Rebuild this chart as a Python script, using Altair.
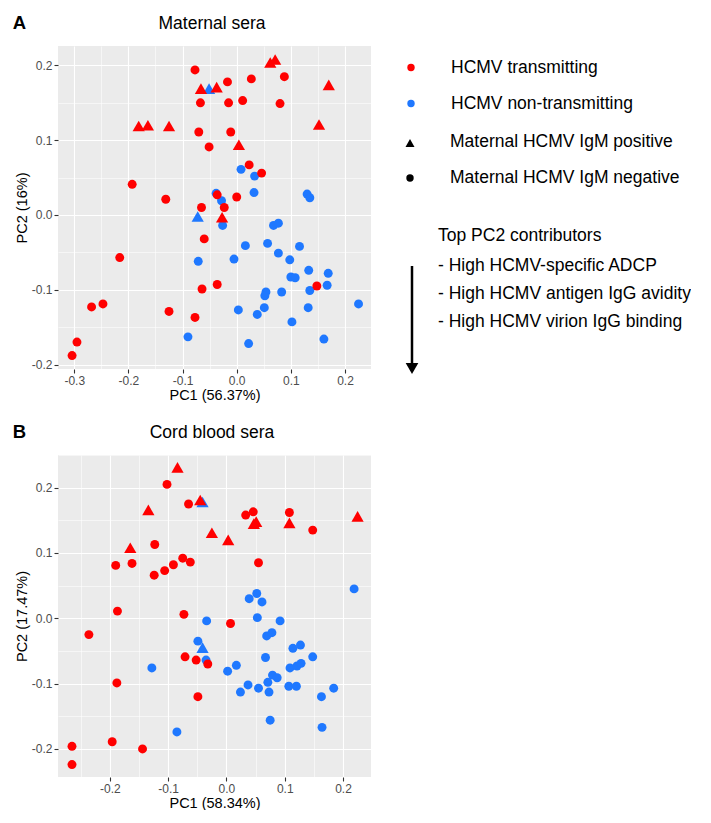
import altair as alt
import pandas as pd

FONT = "Liberation Sans"
RED = "#FF0000"
BLUE = "#1F78FF"
GRAY_BG = "#EBEBEB"

# ---------------- Panel A: maternal sera ----------------
a_nontx_circle_pc1 = [0.008, 0.033, 0.032, 0.130, 0.135, -0.038, -0.028, -0.026, 0.068, 0.077,
                      0.016, 0.057, 0.116, 0.077, -0.005, 0.098, 0.133, 0.169, 0.100, 0.108,
                      0.167, 0.135, 0.054, 0.052, 0.083, 0.003, 0.051, 0.132, 0.038, 0.225,
                      0.102, 0.022, 0.161, -0.071, -0.090]
a_nontx_circle_pc2 = [0.061, 0.052, 0.030, 0.028, 0.023, 0.029, 0.019, -0.014, -0.014, -0.011,
                      -0.041, -0.038, -0.042, -0.051, -0.059, -0.060, -0.074, -0.078, -0.083, -0.084,
                      -0.094, -0.101, -0.103, -0.108, -0.103, -0.127, -0.124, -0.124, -0.133, -0.119,
                      -0.143, -0.172, -0.166, -0.062, -0.163]
a_nontx_tri_pc1 = [-0.051, -0.072]
a_nontx_tri_pc2 = [0.169, -0.002]
a_tx_circle_pc1 = [-0.077, -0.067, -0.070, -0.051, -0.193, -0.131, -0.065, 0.088, 0.027, -0.017,
                   -0.015, 0.011, 0.080, -0.011, 0.023, 0.046, -0.036, 0.000, -0.023, -0.060,
                   -0.216, -0.036, -0.064, -0.268, -0.247, -0.125, -0.077, -0.295, -0.304, 0.148]
a_tx_circle_pc2 = [0.194, 0.150, 0.111, 0.091, 0.041, 0.021, 0.010, 0.185, 0.182, 0.178,
                   0.150, 0.153, 0.149, 0.111, 0.067, 0.056, 0.027, 0.024, 0.010, -0.032,
                   -0.057, -0.093, -0.099, -0.123, -0.119, -0.129, -0.137, -0.170, -0.188, -0.095]
a_tx_tri_pc1 = [-0.066, -0.037, -0.181, -0.164, -0.125, 0.062, 0.071, 0.170, 0.152, 0.004, -0.027]
a_tx_tri_pc2 = [0.169, 0.171, 0.119, 0.120, 0.119, 0.204, 0.208, 0.174, 0.121, 0.094, -0.003]

# ---------------- Panel B: cord blood sera ----------------
b_nontx_circle_pc1 = [-0.034, 0.219, 0.039, 0.052, 0.061, 0.053, 0.092, -0.049, -0.035, -0.128,
                      -0.085, 0.069, 0.078, 0.114, 0.127, 0.148, 0.067, 0.017, 0.002, 0.109,
                      0.121, 0.128, 0.079, 0.087, 0.071, 0.037, 0.055, 0.024, 0.073, 0.107,
                      0.120, 0.184, 0.163, 0.075, 0.164]
b_nontx_circle_pc2 = [-0.004, 0.045, 0.030, 0.038, 0.025, 0.001, -0.004, -0.035, -0.064, -0.076,
                      -0.174, -0.027, -0.022, -0.046, -0.041, -0.059, -0.060, -0.072, -0.081, -0.076,
                      -0.073, -0.069, -0.087, -0.091, -0.098, -0.102, -0.107, -0.113, -0.113, -0.104,
                      -0.104, -0.107, -0.120, -0.156, -0.167]
b_nontx_tri_pc1 = [-0.041, -0.041]
b_nontx_tri_pc2 = [0.178, -0.045]
b_tx_circle_pc1 = [-0.102, -0.065, -0.123, -0.190, -0.162, -0.075, -0.062, -0.091, -0.106, -0.124,
                   -0.187, -0.073, 0.033, 0.046, 0.108, 0.148, 0.055, 0.007, -0.236, -0.071,
                   -0.052, -0.032, -0.188, -0.049, -0.196, -0.265, -0.144, -0.265]
b_tx_circle_pc2 = [0.205, 0.175, 0.113, 0.081, 0.084, 0.092, 0.086, 0.082, 0.073, 0.066,
                   0.011, 0.006, 0.158, 0.163, 0.162, 0.135, 0.085, -0.008, -0.025, -0.059,
                   -0.064, -0.070, -0.099, -0.120, -0.189, -0.196, -0.200, -0.224]
b_tx_tri_pc1 = [-0.084, -0.045, -0.134, -0.025, -0.165, 0.047, 0.051, 0.108, 0.225, 0.003]
b_tx_tri_pc2 = [0.231, 0.181, 0.166, 0.131, 0.108, 0.145, 0.148, 0.146, 0.156, 0.120]

# axis tick positions (major + minor grid)
a_x_ticks = [-0.3, -0.25, -0.2, -0.15, -0.1, -0.05, 0.0, 0.05, 0.1, 0.15, 0.2]
a_y_ticks = [-0.2, -0.15, -0.1, -0.05, 0.0, 0.05, 0.1, 0.15, 0.2]
b_x_ticks = [-0.25, -0.2, -0.15, -0.1, -0.05, 0.0, 0.05, 0.1, 0.15, 0.2]
b_y_ticks = [-0.2, -0.15, -0.1, -0.05, 0.0, 0.05, 0.1, 0.15, 0.2, 0.25]

status_labels = ["HCMV transmitting", "HCMV non-transmitting"]
igm_labels = ["Maternal HCMV IgM positive", "Maternal HCMV IgM negative"]
notes = ["Top PC2 contributors", "- High HCMV-specific ADCP",
         "- High HCMV antigen IgG avidity", "- High HCMV virion IgG binding"]


def frame(groups):
    rows = []
    for status, igm, xs, ys in groups:
        for x, y in zip(xs, ys):
            rows.append({"pc1": x, "pc2": y, "status": status, "igm": igm})
    return pd.DataFrame(rows)


df_a = frame([
    ("non", "neg", a_nontx_circle_pc1, a_nontx_circle_pc2),
    ("non", "pos", a_nontx_tri_pc1, a_nontx_tri_pc2),
    ("tx", "neg", a_tx_circle_pc1, a_tx_circle_pc2),
    ("tx", "pos", a_tx_tri_pc1, a_tx_tri_pc2),
])
df_b = frame([
    ("non", "neg", b_nontx_circle_pc1, b_nontx_circle_pc2),
    ("non", "pos", b_nontx_tri_pc1, b_nontx_tri_pc2),
    ("tx", "neg", b_tx_circle_pc1, b_tx_circle_pc2),
    ("tx", "pos", b_tx_tri_pc1, b_tx_tri_pc2),
])

MAJOR = "abs(datum.value * 10 - round(datum.value * 10)) < 0.001"
LABEL = (MAJOR + " ? ((datum.value < -0.001 ? '-' : '') + format(abs(datum.value), '.1f')) : ''")


def make_axis(title, values):
    return alt.Axis(
        title=title, values=values, labelExpr=LABEL,
        grid=True, gridColor="white",
        gridWidth={"condition": {"test": MAJOR, "value": 1.1}, "value": 0.55},
        tickOpacity={"condition": {"test": MAJOR, "value": 1}, "value": 0},
        tickColor="#333333", tickSize=4, tickWidth=1.1, domain=False,
        labelColor="#4D4D4D", labelFont=FONT, labelFontSize=12, labelPadding=2,
        labelFlush=False, labelOverlap=False,
        titleFont=FONT, titleFontSize=14.5, titleFontWeight="normal", titleColor="black",
        titlePadding=2,
    )


one = pd.DataFrame({"k": [0]})


def txt(s, x, y, size=17.5, weight="normal", align="left", baseline="middle"):
    return alt.Chart(one).mark_text(
        text=s, align=align, baseline=baseline, font=FONT, fontSize=size,
        fontWeight=weight, color="black"
    ).encode(x=alt.value(x), y=alt.value(y))


def sym(shape, color, size, x, y):
    return alt.Chart(one).mark_point(
        shape=shape, filled=True, color=color, size=size, opacity=1
    ).encode(x=alt.value(x), y=alt.value(y))


def scatter(df, xdom, ydom, xvals, yvals, xtitle, ytitle):
    return alt.Chart(df).mark_point(filled=True, opacity=1).encode(
        x=alt.X("pc1:Q", scale=alt.Scale(domain=xdom, nice=False, zero=False),
                axis=make_axis(xtitle, xvals)),
        y=alt.Y("pc2:Q", scale=alt.Scale(domain=ydom, nice=False, zero=False),
                axis=make_axis(ytitle, yvals)),
        color=alt.Color("status:N", scale=alt.Scale(domain=["tx", "non"], range=[RED, BLUE]), legend=None),
        shape=alt.Shape("igm:N", scale=alt.Scale(domain=["pos", "neg"], range=["triangle-up", "circle"]), legend=None),
        size=alt.Size("igm:O", scale=alt.Scale(domain=["pos", "neg"], range=[150, 80]), legend=None),
    )


pts_a = scatter(df_a, [-0.33, 0.248], [-0.206, 0.226], a_x_ticks, a_y_ticks,
                "PC1 (56.37%)", "PC2 (16%)")
pts_b = scatter(df_b, [-0.289, 0.248], [-0.243, 0.25], b_x_ticks, b_y_ticks,
                "PC1 (58.34%)", "PC2 (17.47%)")

legend_layers = [
    sym("circle", RED, 55, 353, 21.5),
    txt(status_labels[0], 393, 21.5),
    sym("circle", BLUE, 55, 353, 57.5),
    txt(status_labels[1], 393, 57.5),
    sym("triangle-up", "black", 81, 352, 97),
    txt(igm_labels[0], 392, 96),
    sym("circle", "black", 55, 352, 132),
    txt(igm_labels[1], 392, 132),
    txt(notes[0], 380, 190),
    txt(notes[1], 380, 220),
    txt(notes[2], 380, 248),
    txt(notes[3], 380, 276),
    alt.Chart(one).mark_rule(color="black", strokeWidth=2.5).encode(
        x=alt.value(354), y=alt.value(220), y2=alt.value(318)),
    sym("triangle-down", "black", 160, 354, 322.5),
]

panel_a = alt.layer(
    pts_a,
    txt("A", -38.5, -17, size=18.5, weight="bold", align="center", baseline="alphabetic"),
    txt("Maternal sera", 154, -17, align="center", baseline="alphabetic"),
    *legend_layers,
).properties(width=313, height=323)

panel_b = alt.layer(
    pts_b,
    txt("B", -38.5, -17, size=18.5, weight="bold", align="center", baseline="alphabetic"),
    txt("Cord blood sera", 154, -17, align="center", baseline="alphabetic"),
).properties(width=313, height=322)

chart = alt.vconcat(panel_a, panel_b, spacing=21).properties(
    padding={"left": 4, "top": 6, "right": 0, "bottom": 0},
    background="white",
).configure_view(fill=GRAY_BG, stroke=None)

chart.save("out.html", embed_options={"renderer": "svg", "actions": False})
